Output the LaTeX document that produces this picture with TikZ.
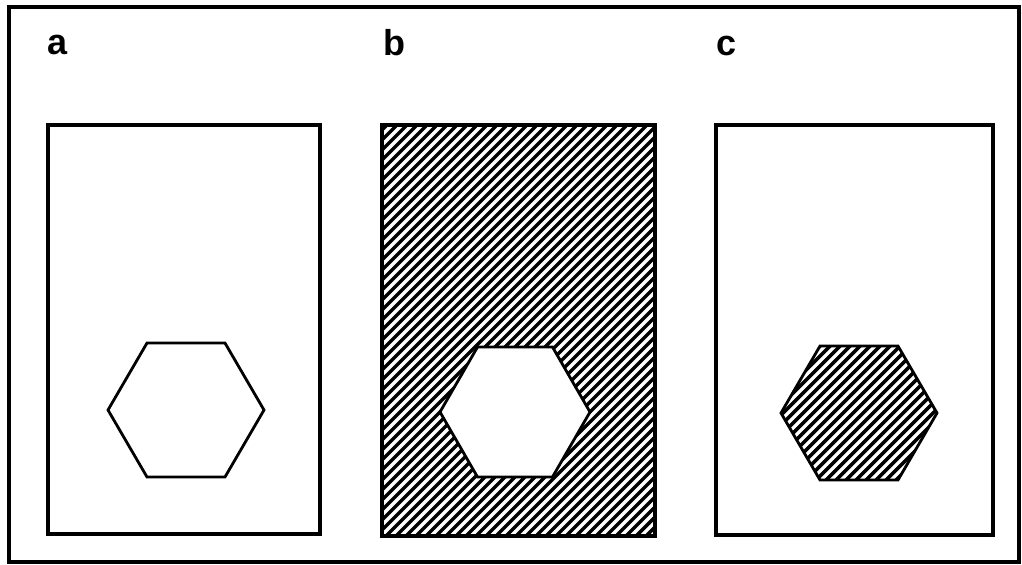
\documentclass[tikz,border=0pt]{standalone}
\usepackage{fontspec}
\setmainfont{Liberation Sans}
\tikzset{
  panel/.style={line width=2pt, line join=miter},
  hexline/.style={line width=1.4pt, line join=miter},
  hatchline/.style={line width=1.75pt},
  frame/.style={line width=1.6pt},
  lbl/.style={anchor=base west, inner sep=0pt, font=\fontsize{18}{18}\selectfont\bfseries}
}
\begin{document}
\begin{tikzpicture}[x=0.5pt,y=-0.5pt]
\useasboundingbox (0,0) rectangle (1022,564);
% outer frame
\draw[frame] (9,7) rectangle (1019,562);
% labels
\node[lbl] (la) at (47,54) {a};
\node[lbl] (lb) at (383,55) {b};
\node[lbl] (lc) at (716,55) {c};
% panel a
\draw[panel] (48,125) rectangle (320,534);
\draw[hexline] (108,410) -- (147,343) -- (225,343) -- (264,410) -- (225,477) -- (147,477) -- cycle;
% panel b
\begin{scope}[even odd rule]
\clip (382,125) rectangle (655,536) (440,412) -- (477.5,347) -- (552.5,347) -- (590,412) -- (552.5,477) -- (477.5,477) -- cycle;
\foreach \i in {-44,...,29} \draw[hatchline] ({382+10*\i},540) -- ++(430,-430);
\end{scope}
\draw[panel] (382,125) rectangle (655,536);
\draw[hexline] (440,412) -- (477.5,347) -- (552.5,347) -- (590,412) -- (552.5,477) -- (477.5,477) -- cycle;
% panel c
\draw[panel] (716,125) rectangle (993,535);
\begin{scope}
\clip (781,413) -- (820,346) -- (898,346) -- (937,413) -- (898,480) -- (820,480) -- cycle;
\foreach \i in {-16,...,17} \draw[hatchline] ({781+10*\i},485) -- ++(150,-150);
\end{scope}
\draw[hexline] (781,413) -- (820,346) -- (898,346) -- (937,413) -- (898,480) -- (820,480) -- cycle;
\end{tikzpicture}
\end{document}
